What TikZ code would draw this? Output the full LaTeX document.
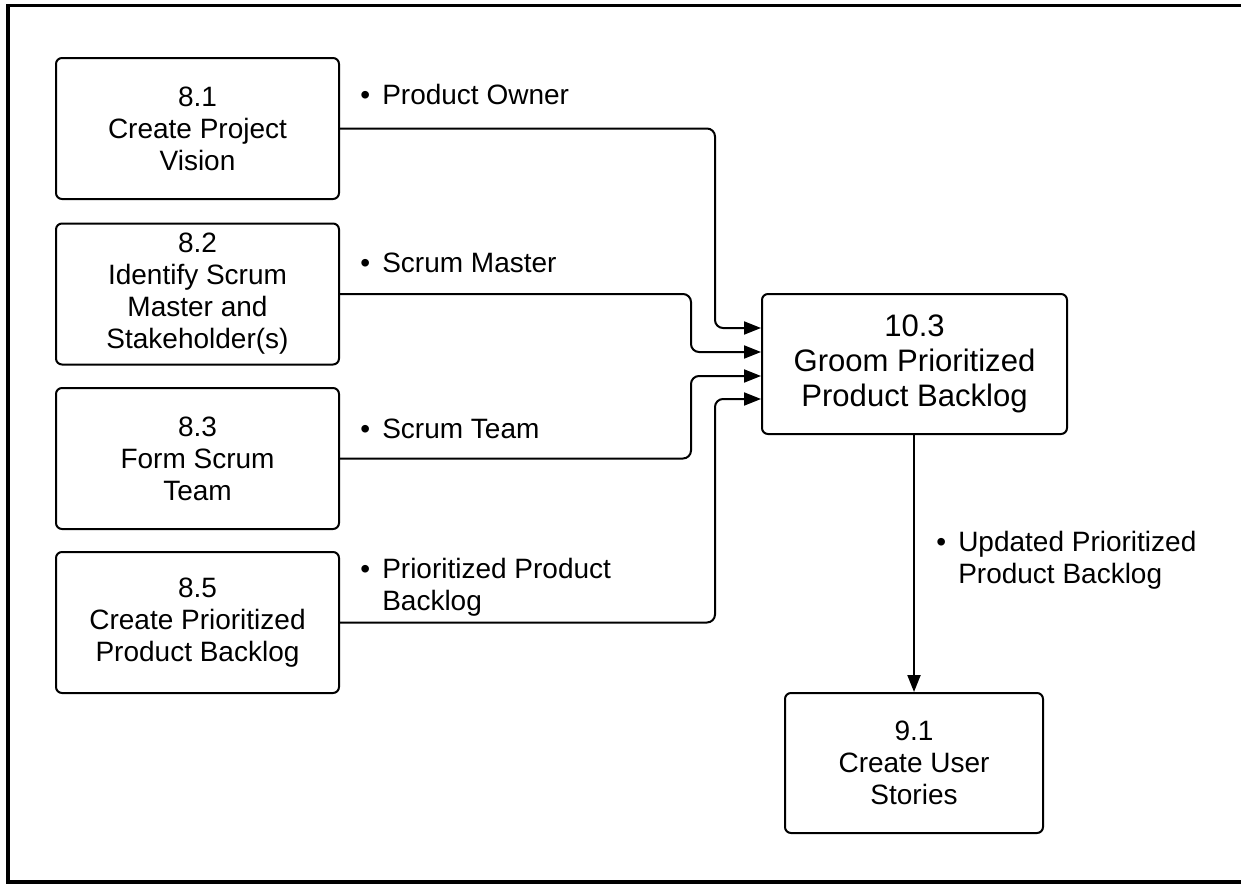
\documentclass[tikz,border=0pt]{standalone}
\usepackage{fontspec}
\setmainfont{Liberation Sans}
\usetikzlibrary{arrows.meta}
\begin{document}
\begin{tikzpicture}[x=0.75pt,y=-0.75pt,
  procbox/.style={draw, line width=1.5pt, rounded corners=4.5pt, align=center, inner sep=0pt,
    font=\fontsize{21}{24}\selectfont},
  bigbox/.style={procbox, font=\fontsize{23.3}{26}\selectfont},
  flow/.style={line width=1.5pt, rounded corners=6pt, -{Triangle[length=12.75pt,width=9.75pt]}},
  lbl/.style={anchor=base west, inner sep=0pt, align=left, font=\fontsize{21}{24}\selectfont}]
\newcommand{\bul}{\llap{•\hspace{9pt}}}
\useasboundingbox (0,0) rectangle (1241,885);
\draw[line width=2.8pt] (1250,5.5) -- (8,5.5) -- (8,882) -- (1250,882);

\node[procbox, minimum width=212.25pt, minimum height=105.75pt] (b81) at (197.5,128.5) {8.1\\Create Project\\Vision};
\node[procbox, minimum width=212.25pt, minimum height=105.75pt] (b82) at (197.5,294) {8.2\\Identify Scrum\\Master and\\Stakeholder(s)};
\node[procbox, minimum width=212.25pt, minimum height=105.75pt] (b83) at (197.5,458.5) {8.3\\Form Scrum\\Team};
\node[procbox, minimum width=212.25pt, minimum height=105.75pt] (b85) at (197.5,622.5) {8.5\\Create Prioritized\\Product Backlog};
\node[bigbox, minimum width=228.75pt, minimum height=105pt] (b103) at (914.5,364) {10.3\\Groom Prioritized\\Product Backlog};
\node[procbox, minimum width=193.5pt, minimum height=105pt] (b91) at (914,763) {9.1\\Create User\\Stories};

\draw[flow] (b81.east) -- (715,128.5) -- (715,328) -- (b103.west |- 0,328);
\draw[flow] (b82.east) -- (691,294) -- (691,352) -- (b103.west |- 0,352);
\draw[flow] (b83.east) -- (691,458.5) -- (691,376) -- (b103.west |- 0,376);
\draw[flow] (b85.east) -- (715,622.5) -- (715,399) -- (b103.west |- 0,399);
\draw[flow] (b103.south -| b91.north) -- (b91.north);

\node[lbl] (l1) at (382,104) {\bul Product Owner};
\node[lbl] (l2) at (382,272) {\bul Scrum Master};
\node[lbl] (l3) at (382,438) {\bul Scrum Team};
\node[lbl] (l4) at (382,610) {\bul Prioritized Product\\Backlog};
\node[lbl] (l5) at (958,583) {\bul Updated Prioritized\\Product Backlog};
\end{tikzpicture}
\end{document}
